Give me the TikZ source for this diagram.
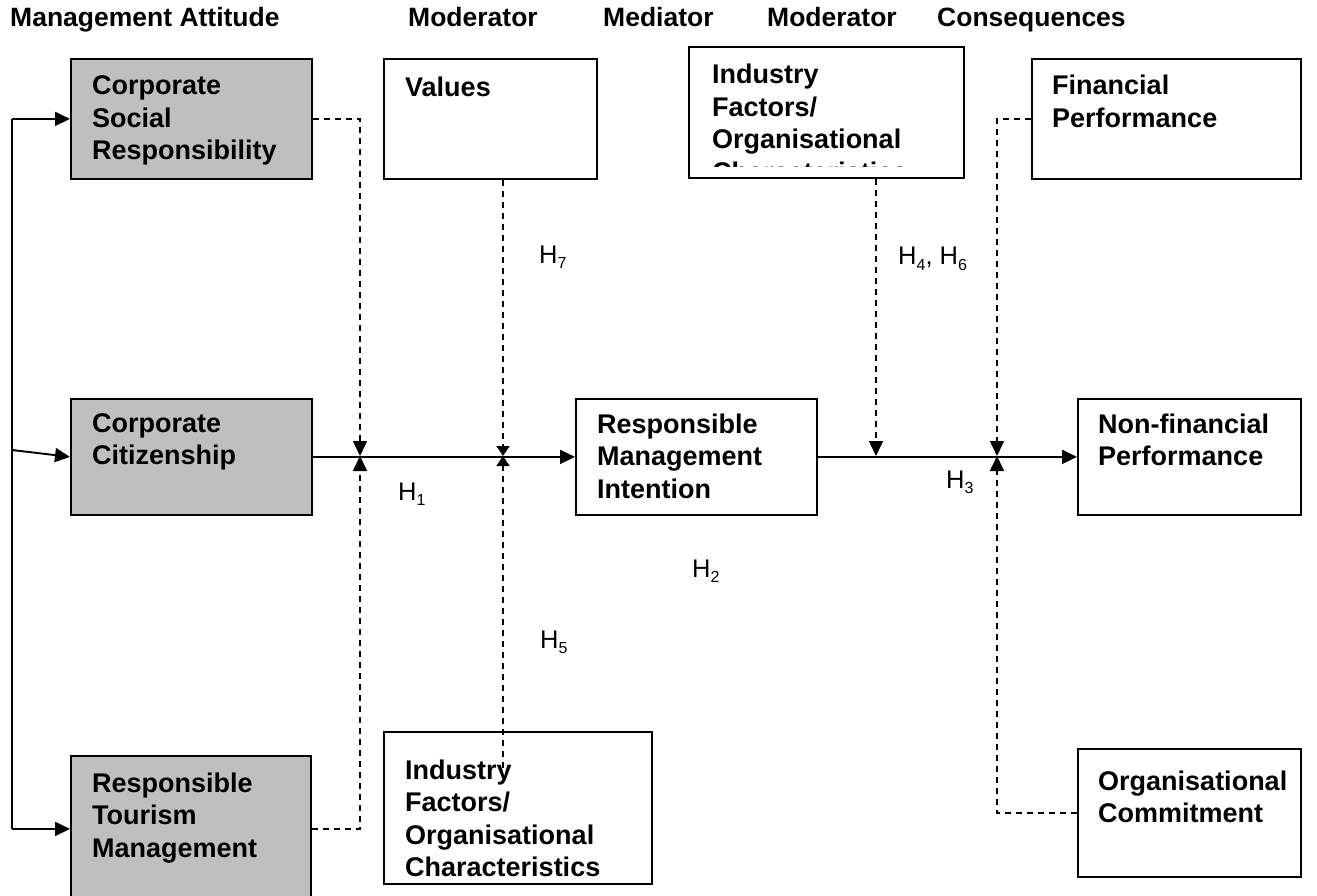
\documentclass[tikz,border=0pt]{standalone}
\usepackage{fontspec}
\setmainfont{Liberation Sans}
\usetikzlibrary{arrows.meta}
\newcommand\hsub[1]{H\raisebox{-5.5pt}{\fontsize{16}{16}\selectfont #1}}
\begin{document}
\begin{tikzpicture}[x=1pt,y=-1pt,
  box/.style={draw, line width=1.8pt, inner sep=0pt, anchor=north west},
  gbox/.style={box, fill=black!25},
  txt/.style={anchor=base west, align=left, inner sep=0pt, font=\bfseries\fontsize{27}{32.5}\selectfont},
  hd/.style={anchor=base west, inner sep=0pt, font=\bfseries\fontsize{26.5}{32}\selectfont},
  hl/.style={anchor=base west, inner sep=0pt, font=\fontsize{25.5}{30}\selectfont},
  con/.style={line width=1.9pt},
  dsh/.style={line width=1.6pt, dash pattern=on 6pt off 5pt},
  tip/.style={-{Triangle[length=15pt,width=14pt]}},
  stip/.style={-{Triangle[length=10pt,width=13pt]}},
]
\useasboundingbox (0,0) rectangle (1317,896);

% headers
\node[hd] (h1) at (10,27) {Management Attitude};
\node[hd] (h2) at (408,27) {Moderator};
\node[hd] (h3) at (603,27) {Mediator};
\node[hd] (h4) at (767,27) {Moderator};
\node[hd] (h5) at (937,27) {Consequences};

% boxes (text anchored at the baseline of its last line)
\node[gbox, minimum width=241pt, minimum height=120pt] (csr) at (70,58) {};
\node[txt] (csrT) at (92,160) {Corporate\\Social\\Responsibility};

\node[gbox, minimum width=241pt, minimum height=116pt] (cc) at (70,398) {};
\node[txt] (ccT) at (92,464.5) {Corporate\\Citizenship};

\node[gbox, minimum width=240pt, minimum height=146pt] (rtm) at (70,755) {};
\node[txt] (rtmT) at (92,857) {Responsible\\Tourism\\Management};

\node[box, minimum width=213pt, minimum height=120pt] (val) at (383,58) {};
\node[txt] (valT) at (405,97) {Values};

\node[box, minimum width=275pt, minimum height=131pt] (ind1) at (688,46) {};
\begin{scope}
\clip (690,48) rectangle (961,167);
\node[txt] (ind1T) at (712,181.5) {Industry\\Factors/\\Organisational\\Characteristics};
\end{scope}

\node[box, minimum width=269pt, minimum height=120pt] (fin) at (1031,58) {};
\node[txt] (finT) at (1052,127.5) {Financial\\Performance};

\node[box, minimum width=241pt, minimum height=116pt] (rmi) at (575,398) {};
\node[txt] (rmiT) at (597,498) {Responsible\\Management\\Intention};

\node[box, minimum width=223pt, minimum height=116pt] (nfp) at (1077,398) {};
\node[txt] (nfpT) at (1098,465.5) {Non-financial\\Performance};

\node[box, minimum width=268pt, minimum height=152pt] (ind2) at (383,731) {};
\node[txt] (ind2T) at (405,876.5) {Industry\\Factors/\\Organisational\\Characteristics};

\node[box, minimum width=223pt, minimum height=128pt] (oc) at (1077,748) {};
\node[txt] (ocT) at (1098,822.5) {Organisational\\Commitment};

% coordinates
\coordinate (lx) at (12,0);
\coordinate (ccs) at (12,450);
\coordinate (j1) at (360,456);
\coordinate (j2) at (503,456);
\coordinate (j2b) at (503,768);
\coordinate (j3) at (876,456);
\coordinate (j4) at (997,456);

% solid connectors
\draw[con] (lx |- csr.west) -- (lx |- rtm.west);
\draw[con,tip] (lx |- csr.west) -- (csr.west);
\draw[con,tip] (lx |- rtm.west) -- (rtm.west);
\draw[con,tip] (ccs) -- (cc.west);
\draw[con,tip] (cc.east) -- (rmi.west);
\draw[con,tip] (rmi.east) -- (nfp.west);

% dashed connectors
\draw[dsh,tip] (csr.east) -| (j1);
\draw[dsh,tip] (rtm.east) -| (j1);
\draw[dsh,stip] (j2 |- val.south) -- (j2);
\draw[dsh,stip] (j2b) -- (j2);
\draw[dsh,tip] (j3 |- ind1.south) -- (j3);
\draw[dsh,tip] (fin.west) -| (j4);
\draw[dsh,tip] (oc.west) -| (j4);

% hypothesis labels
\node[hl] (H7) at (539,263) {\hsub{7}};
\node[hl] (H46) at (898,265) {\hsub{4}, \hsub{6}};
\node[hl] (H1) at (398,500) {\hsub{1}};
\node[hl] (H3) at (946,488) {\hsub{3}};
\node[hl] (H2) at (692,577) {\hsub{2}};
\node[hl] (H5) at (540,648) {\hsub{5}};
\end{tikzpicture}
\end{document}
